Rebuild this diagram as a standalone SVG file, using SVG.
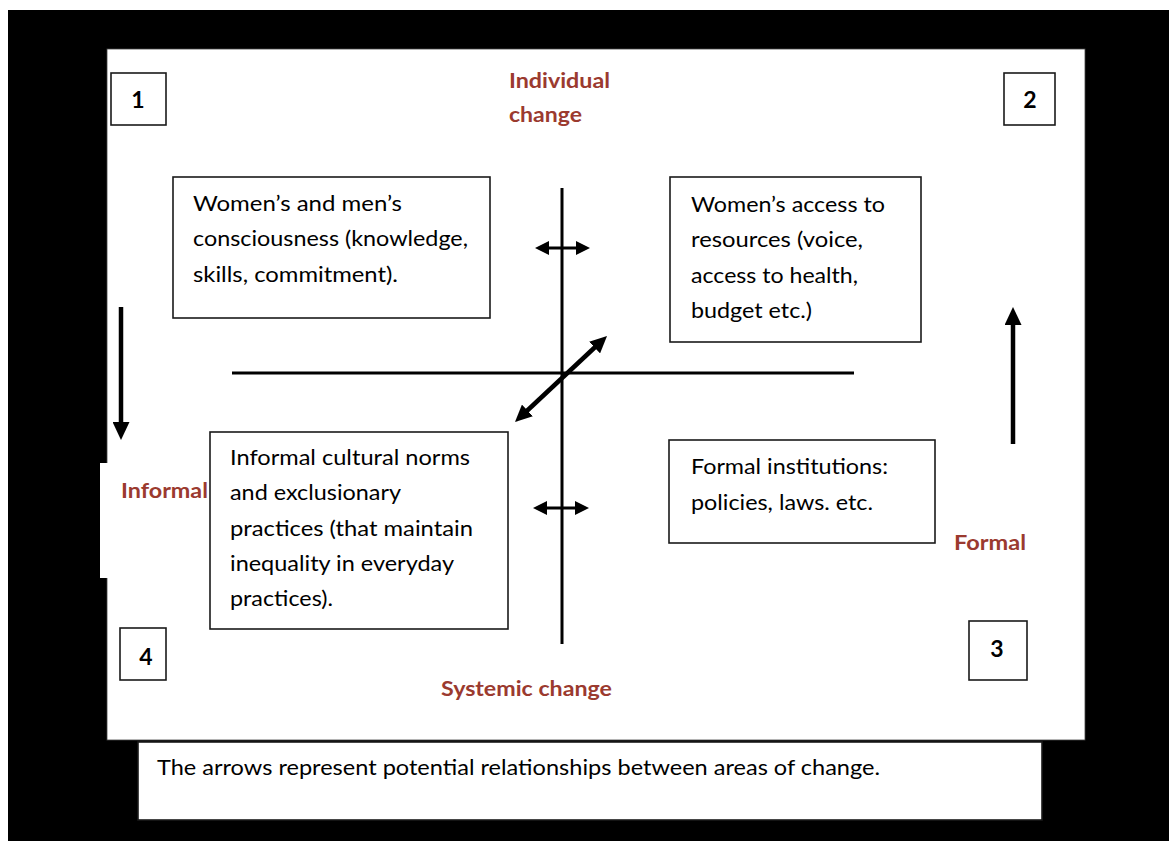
<svg xmlns="http://www.w3.org/2000/svg" width="1169" height="841" viewBox="0 0 1169 841">
<style>
  .box { fill: #ffffff; stroke: #1a1a1a; stroke-width: 1.6; }
  .body { font-family: Lato, "Open Sans", "Liberation Sans", sans-serif; font-size: 21px; fill: #000000; }
  .num { font-family: Lato, "Open Sans", "Liberation Sans", sans-serif; font-size: 23px; font-weight: bold; fill: #000000; text-anchor: middle; }
  .lbl { font-family: Lato, "Open Sans", "Liberation Sans", sans-serif; font-size: 21px; font-weight: bold; fill: #9b3a2f; }
  .axis { stroke: #000000; stroke-width: 3; fill: none; }
  .arr3 { stroke: #000000; stroke-width: 3; fill: none; }
  .arr4 { stroke: #000000; stroke-width: 4.5; fill: none; }
</style>
<defs>
  <marker id="arrowS" viewBox="0 0 14 14" markerWidth="14" markerHeight="14" markerUnits="userSpaceOnUse" refX="3" refY="7" orient="auto-start-reverse">
    <path d="M0,0 L14,7 L0,14 z" fill="#000000"/>
  </marker>
  <marker id="arrowM" viewBox="0 0 17 16" markerWidth="17" markerHeight="16" markerUnits="userSpaceOnUse" refX="3" refY="8" orient="auto-start-reverse">
    <path d="M0,0 L17,8 L0,16 z" fill="#000000"/>
  </marker>
  <marker id="arrowL" viewBox="0 0 18 17" markerWidth="18" markerHeight="17" markerUnits="userSpaceOnUse" refX="3" refY="8.5" orient="auto">
    <path d="M0,0 L18,8.5 L0,17 z" fill="#000000"/>
  </marker>
</defs>

<!-- background -->
<rect x="0" y="0" width="1169" height="841" fill="#ffffff"/>
<rect x="8" y="10" width="1161" height="831" fill="#000000"/>
<rect x="107" y="49" width="978" height="691" fill="#ffffff" stroke="#444444" stroke-width="0.8"/>
<rect x="100" y="463" width="8" height="115" fill="#ffffff"/>

<!-- corner numbers -->
<g id="num1">
  <rect class="box" x="111" y="73" width="55" height="52"/>
  <text class="num" x="138" y="108">1</text>
</g>
<g id="num2">
  <rect class="box" x="1004" y="73" width="51" height="52"/>
  <text class="num" x="1030" y="108">2</text>
</g>
<g id="num3">
  <rect class="box" x="969" y="621" width="58" height="59"/>
  <text class="num" x="997" y="657">3</text>
</g>
<g id="num4">
  <rect class="box" x="120" y="628" width="46" height="52"/>
  <text class="num" x="146" y="665">4</text>
</g>

<!-- axis labels -->
<g id="label-individual">
  <text class="lbl" x="509" y="88" textLength="101" lengthAdjust="spacingAndGlyphs">Individual</text>
  <text class="lbl" x="509" y="122" textLength="73" lengthAdjust="spacingAndGlyphs">change</text>
</g>
<g id="label-systemic">
  <text class="lbl" x="441" y="696" textLength="171" lengthAdjust="spacingAndGlyphs">Systemic change</text>
</g>
<g id="label-informal">
  <text class="lbl" x="121" y="498" textLength="87" lengthAdjust="spacingAndGlyphs">Informal</text>
</g>
<g id="label-formal">
  <text class="lbl" x="954" y="550" textLength="72" lengthAdjust="spacingAndGlyphs">Formal</text>
</g>

<!-- connectors -->
<g id="connectors">
  <line class="axis" x1="562" y1="188" x2="562" y2="644"/>
  <line class="axis" x1="232" y1="373" x2="854" y2="373"/>
  <line class="arr3" x1="546" y1="248" x2="579" y2="248" marker-start="url(#arrowS)" marker-end="url(#arrowS)"/>
  <line class="arr3" x1="544" y1="508" x2="578" y2="508" marker-start="url(#arrowS)" marker-end="url(#arrowS)"/>
  <line class="arr4" x1="525.2" y1="412.5" x2="596.8" y2="345.5" marker-start="url(#arrowM)" marker-end="url(#arrowM)"/>
  <line class="arr4" x1="121" y1="307" x2="121" y2="425" marker-end="url(#arrowL)"/>
  <line class="arr4" x1="1013" y1="444" x2="1013" y2="322" marker-end="url(#arrowL)"/>
</g>

<!-- quadrant nodes -->
<g id="node-consciousness">
  <rect class="box" x="173" y="177" width="317" height="141"/>
  <text class="body" x="193" y="211" textLength="209" lengthAdjust="spacingAndGlyphs">Women’s and men’s</text>
  <text class="body" x="193" y="246" textLength="275" lengthAdjust="spacingAndGlyphs">consciousness (knowledge,</text>
  <text class="body" x="193" y="282" textLength="205" lengthAdjust="spacingAndGlyphs">skills, commitment).</text>
</g>
<g id="node-resources">
  <rect class="box" x="670" y="177" width="251" height="165"/>
  <text class="body" x="691" y="212" textLength="194" lengthAdjust="spacingAndGlyphs">Women’s access to</text>
  <text class="body" x="691" y="247" textLength="172" lengthAdjust="spacingAndGlyphs">resources (voice,</text>
  <text class="body" x="691" y="283" textLength="167" lengthAdjust="spacingAndGlyphs">access to health,</text>
  <text class="body" x="691" y="318" textLength="121" lengthAdjust="spacingAndGlyphs">budget etc.)</text>
</g>
<g id="node-informal-norms">
  <rect class="box" x="210" y="432" width="298" height="197"/>
  <text class="body" x="230" y="465" textLength="240" lengthAdjust="spacingAndGlyphs">Informal cultural norms</text>
  <text class="body" x="230" y="500" textLength="171" lengthAdjust="spacingAndGlyphs">and exclusionary</text>
  <text class="body" x="230" y="536" textLength="243" lengthAdjust="spacingAndGlyphs">practices (that maintain</text>
  <text class="body" x="230" y="571" textLength="224" lengthAdjust="spacingAndGlyphs">inequality in everyday</text>
  <text class="body" x="230" y="606" textLength="103" lengthAdjust="spacingAndGlyphs">practices).</text>
</g>
<g id="node-formal-institutions">
  <rect class="box" x="669" y="440" width="266" height="103"/>
  <text class="body" x="691" y="474" textLength="197" lengthAdjust="spacingAndGlyphs">Formal institutions:</text>
  <text class="body" x="691" y="510" textLength="182" lengthAdjust="spacingAndGlyphs">policies, laws. etc.</text>
</g>

<!-- caption -->
<g id="caption">
  <rect class="box" x="138" y="742" width="904" height="78"/>
  <text class="body" x="157" y="775" textLength="723" lengthAdjust="spacingAndGlyphs">The arrows represent potential relationships between areas of change.</text>
</g>
</svg>
